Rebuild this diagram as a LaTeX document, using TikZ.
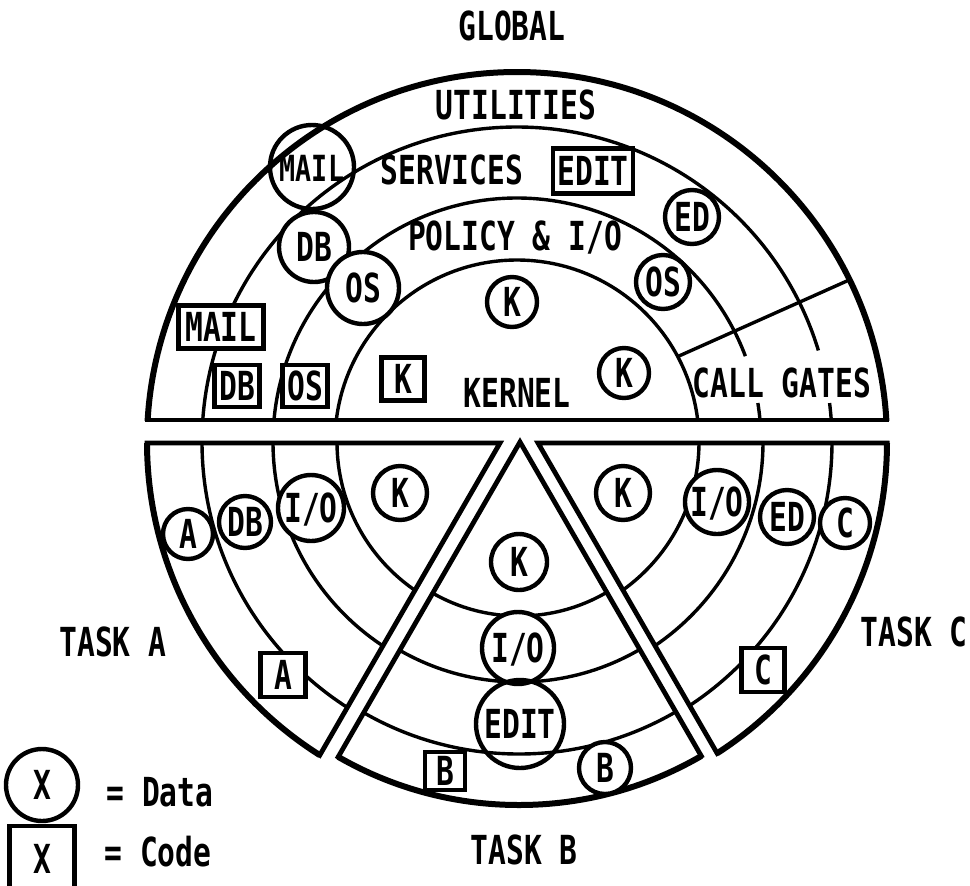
\documentclass[tikz,border=0pt]{standalone}
\usepackage{fontspec}
\newfontfamily\lf{DejaVu Sans Mono}[FakeStretch=0.74]
\begin{document}
\begin{tikzpicture}[x=0.5pt,y=-0.5pt,
  font=\lf\bfseries\fontsize{20}{22}\selectfont,
  ringline/.style={line width=1.7pt},
  outerline/.style={line width=3pt},
  edgeline/.style={line width=2.4pt},
  datac/.style={circle, draw, line width=2.2pt, fill=white, inner sep=0pt,
    text height=14.6pt, text depth=0pt, minimum size=#1},
  codebox/.style={draw, line width=2.1pt, fill=white, inner sep=0pt,
    text height=14.6pt, text depth=0pt},
  lbl/.style={inner sep=0pt, text height=14.6pt, text depth=0pt}]
\useasboundingbox (0,0) rectangle (970,885);
\coordinate (C) at (517,442);
\coordinate (Cb) at (519,442);
% ---------- top (global) part ----------
\begin{scope}
  \clip (0,-10) rectangle (970,420);
  \draw[outerline] (C) circle[radius=370];
  \draw[ringline] (C) circle[radius=182];
  \draw[ringline] ([shift={(182:315)}]C) arc[start angle=182, end angle=343.1, radius=315];
  \draw[ringline] ([shift={(182:244)}]C) arc[start angle=182, end angle=339.4, radius=244];
  \draw[ringline] ([shift={(350.8:244)}]C) arc[start angle=350.8, end angle=358, radius=244];
  \draw[ringline] ([shift={(352.9:315)}]C) arc[start angle=352.9, end angle=358, radius=315];
\end{scope}
\coordinate (g1) at ([shift={(332:182)}]C);
\coordinate (g2) at ([shift={(334:370)}]C);
\draw[ringline] (g1) -- (g2);
\coordinate (chL) at (0,420);
\coordinate (chR) at (970,420);
\begin{scope}
  \clip (C) circle[radius=372.5];
  \draw[edgeline] (chL) -- (chR);
\end{scope}
% ---------- task A ----------
\coordinate (ta) at (500,443);
\coordinate (taL) at (-100,443);
\coordinate (taE) at ([shift={(120:1100)}]ta);
\begin{scope}
  \clip (ta) -- (-100,443) -- (-100,1400) -- (taE) -- cycle;
  \draw[outerline] (C) circle[radius=370];
  \foreach \r in {315,244,180} \draw[ringline] (C) circle[radius=\r];
\end{scope}
\begin{scope}
  \clip (C) circle[radius=372.5];
  \draw[edgeline, line join=miter] (taL) -- (ta) -- (taE);
\end{scope}
% ---------- task B ----------
\coordinate (tb) at (520,442);
\coordinate (tbR) at ([shift={(60:1100)}]tb);
\coordinate (tbL) at ([shift={(120:1100)}]tb);
\begin{scope}
  \clip (tb) -- (tbR) -- (tbL) -- cycle;
  \draw[outerline] (Cb) circle[radius=363];
  \foreach \r in {312,240,174} \draw[ringline] (Cb) circle[radius=\r];
\end{scope}
\begin{scope}
  \clip (Cb) circle[radius=365.5];
  \draw[edgeline, line join=miter] (tbR) -- (tb) -- (tbL);
\end{scope}
% ---------- task C ----------
\coordinate (tc) at (538,443);
\coordinate (tcR) at (1100,443);
\coordinate (tcE) at ([shift={(60:1100)}]tc);
\begin{scope}
  \clip (tc) -- (1100,443) -- (1100,1400) -- (tcE) -- cycle;
  \draw[outerline] (C) circle[radius=370];
  \foreach \r in {315,246,182} \draw[ringline] (C) circle[radius=\r];
\end{scope}
\begin{scope}
  \clip (C) circle[radius=372.5];
  \draw[edgeline, line join=miter] (tcR) -- (tc) -- (tcE);
\end{scope}
% ---------- labels top ----------
\node[lbl] (global) at (512,26) {GLOBAL};
\node[lbl] (util) at (516,105) {UTILITIES};
\node[lbl] (serv) at (452,170) {SERVICES};
\node[codebox, minimum width=40pt, minimum height=22.5pt] (editbox) at (593,171) {EDIT};
\node[lbl] (policy) at (515,236) {POLICY \& I/O};
\node[datac=27pt] (edT) at (692,217) {ED};
\node[datac=25pt] (kT1) at (512,302) {K};
\node[datac=27pt] (osT) at (663,282) {OS};
\node[datac=25pt] (kT2) at (624,373) {K};
\node[codebox, minimum width=21.5pt, minimum height=21.5pt] (kbox) at (403,379) {K};
\node[lbl] (kernel) at (517,393) {KERNEL};
\node[lbl] (callg) at (782,383) {CALL GATES};
\node[datac=35pt] (dbT) at (314,247) {DB};
\node[datac=36pt] (osL) at (363,288) {OS};
\node[datac=42pt, fill=none, font=\lf\bfseries\fontsize{18}{20}\selectfont] (mailc) at (312,167) {MAIL};
\node[codebox, minimum width=42.5pt, minimum height=21.5pt] (mailbox) at (221,327) {MAIL};
\node[codebox, minimum width=22.5pt, minimum height=21pt] (dbbox) at (237,386) {DB};
\node[codebox, minimum width=22.5pt, minimum height=21pt] (osbox) at (305,386) {OS};
% ---------- task A ----------
\node[datac=25pt] (aC) at (188,534) {A};
\node[datac=26pt] (dbA) at (245,522) {DB};
\node[datac=33pt] (ioA) at (311,508) {I/O};
\node[datac=27pt] (kA) at (400,493) {K};
\node[codebox, minimum width=22.5pt, minimum height=22pt] (abox) at (283,675) {A};
% ---------- task B ----------
\node[datac=28pt] (kB) at (519,562) {K};
\node[datac=36pt] (ioB) at (518,648) {I/O};
\node[datac=44pt, fill=none] (editB) at (520,724) {EDIT};
\node[codebox, minimum width=20pt, minimum height=19pt] (bbox) at (445,771) {B};
\node[datac=26pt] (bC) at (605,768) {B};
% ---------- task C ----------
\node[datac=27pt] (kC) at (623,493) {K};
\node[datac=32pt] (ioC) at (717,502) {I/O};
\node[datac=27pt] (edC) at (787,517) {ED};
\node[datac=25pt] (cC) at (845,523) {C};
\node[codebox, minimum width=21.5pt, minimum height=22pt] (cbox) at (763,670) {C};
% ---------- task names ----------
\node[lbl] (taskA) at (113,642) {TASK A};
\node[lbl] (taskC) at (914,632) {TASK C};
\node[lbl] (taskB) at (524,850) {TASK B};
% ---------- legend ----------
\node[datac=36pt] (legc) at (42,785) {X};
\node[lbl, anchor=west] (legd) at (106,792) {= Data};
\node[codebox, minimum width=32.5pt, minimum height=33pt] (legb) at (42,859) {X};
\node[lbl, anchor=west] (legk) at (104,852) {= Code};
\end{tikzpicture}
\end{document}
